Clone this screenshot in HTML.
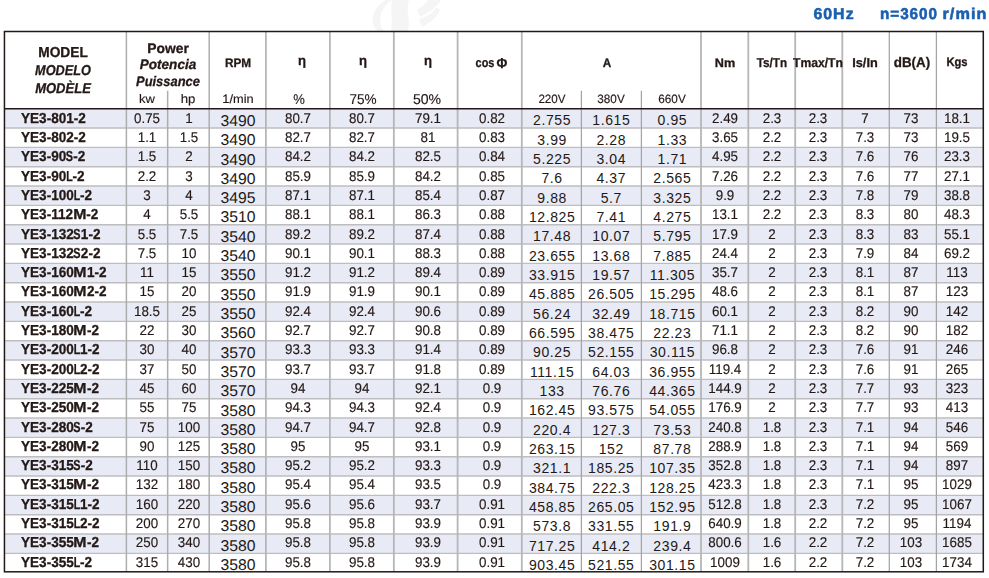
<!DOCTYPE html>
<html><head><meta charset="utf-8"><title>YE3 60Hz</title>
<style>
html,body{margin:0;padding:0;background:#fff;}
body{width:989px;height:578px;position:relative;overflow:hidden;font-family:"Liberation Sans",sans-serif;color:#231815;text-rendering:geometricPrecision;}
.grid{position:absolute;left:0;top:0;}
.t{position:absolute;line-height:20px;white-space:nowrap;height:20px;}
.g{position:absolute;left:0;top:0;width:989px;height:578px;will-change:transform;-webkit-text-stroke:0.15px currentColor;}
.b{font-weight:bold;-webkit-text-stroke:0.3px currentColor;}
.i{font-style:italic;}
.k{display:inline-block;}
</style></head><body>
<svg class="grid" width="989" height="578" viewBox="0 0 989 578">
<g fill="#f5f5f5"><path d="M386 0 C372 8 368 24 378 31 L384 31 C377 22 380 8 392 0 Z"/><path d="M392 0 C390 10 393 22 391 31 L408 31 C411 20 405 10 409 0 Z"/><path d="M428 0 C424 6 420 8 417 10 L420 17 C430 12 438 6 441 0 Z"/><path d="M436 8 C432 14 426 17 419 19 L422 27 C432 22 438 16 440 9 Z"/></g>
<rect x="4.45" y="108.70" width="978.85" height="19.34" fill="#e8ebf5"/>
<rect x="4.45" y="147.37" width="978.85" height="19.34" fill="#e8ebf5"/>
<rect x="4.45" y="186.04" width="978.85" height="19.34" fill="#e8ebf5"/>
<rect x="4.45" y="224.71" width="978.85" height="19.34" fill="#e8ebf5"/>
<rect x="4.45" y="263.38" width="978.85" height="19.34" fill="#e8ebf5"/>
<rect x="4.45" y="302.05" width="978.85" height="19.34" fill="#e8ebf5"/>
<rect x="4.45" y="340.72" width="978.85" height="19.34" fill="#e8ebf5"/>
<rect x="4.45" y="379.39" width="978.85" height="19.34" fill="#e8ebf5"/>
<rect x="4.45" y="418.06" width="978.85" height="19.34" fill="#e8ebf5"/>
<rect x="4.45" y="456.73" width="978.85" height="19.34" fill="#e8ebf5"/>
<rect x="4.45" y="495.40" width="978.85" height="19.34" fill="#e8ebf5"/>
<rect x="4.45" y="534.07" width="978.85" height="19.34" fill="#e8ebf5"/>
<line x1="4.45" y1="128.03" x2="983.3" y2="128.03" stroke="#bebec1" stroke-width="1.4"/>
<line x1="4.45" y1="147.37" x2="983.3" y2="147.37" stroke="#bebec1" stroke-width="1.4"/>
<line x1="4.45" y1="166.71" x2="983.3" y2="166.71" stroke="#bebec1" stroke-width="1.4"/>
<line x1="4.45" y1="186.04" x2="983.3" y2="186.04" stroke="#bebec1" stroke-width="1.4"/>
<line x1="4.45" y1="205.38" x2="983.3" y2="205.38" stroke="#bebec1" stroke-width="1.4"/>
<line x1="4.45" y1="224.71" x2="983.3" y2="224.71" stroke="#bebec1" stroke-width="1.4"/>
<line x1="4.45" y1="244.05" x2="983.3" y2="244.05" stroke="#bebec1" stroke-width="1.4"/>
<line x1="4.45" y1="263.38" x2="983.3" y2="263.38" stroke="#bebec1" stroke-width="1.4"/>
<line x1="4.45" y1="282.72" x2="983.3" y2="282.72" stroke="#bebec1" stroke-width="1.4"/>
<line x1="4.45" y1="302.05" x2="983.3" y2="302.05" stroke="#bebec1" stroke-width="1.4"/>
<line x1="4.45" y1="321.38" x2="983.3" y2="321.38" stroke="#bebec1" stroke-width="1.4"/>
<line x1="4.45" y1="340.72" x2="983.3" y2="340.72" stroke="#bebec1" stroke-width="1.4"/>
<line x1="4.45" y1="360.06" x2="983.3" y2="360.06" stroke="#bebec1" stroke-width="1.4"/>
<line x1="4.45" y1="379.39" x2="983.3" y2="379.39" stroke="#bebec1" stroke-width="1.4"/>
<line x1="4.45" y1="398.73" x2="983.3" y2="398.73" stroke="#bebec1" stroke-width="1.4"/>
<line x1="4.45" y1="418.06" x2="983.3" y2="418.06" stroke="#bebec1" stroke-width="1.4"/>
<line x1="4.45" y1="437.39" x2="983.3" y2="437.39" stroke="#bebec1" stroke-width="1.4"/>
<line x1="4.45" y1="456.73" x2="983.3" y2="456.73" stroke="#bebec1" stroke-width="1.4"/>
<line x1="4.45" y1="476.06" x2="983.3" y2="476.06" stroke="#bebec1" stroke-width="1.4"/>
<line x1="4.45" y1="495.40" x2="983.3" y2="495.40" stroke="#bebec1" stroke-width="1.4"/>
<line x1="4.45" y1="514.74" x2="983.3" y2="514.74" stroke="#bebec1" stroke-width="1.4"/>
<line x1="4.45" y1="534.07" x2="983.3" y2="534.07" stroke="#bebec1" stroke-width="1.4"/>
<line x1="4.45" y1="553.41" x2="983.3" y2="553.41" stroke="#bebec1" stroke-width="1.4"/>
<line x1="126.4" y1="31.5" x2="126.4" y2="571.80" stroke="#adadad" stroke-width="1.5"/>
<line x1="167.65" y1="90.8" x2="167.65" y2="571.80" stroke="#adadad" stroke-width="1.5"/>
<line x1="209.2" y1="31.5" x2="209.2" y2="571.80" stroke="#adadad" stroke-width="1.5"/>
<line x1="265.9" y1="31.5" x2="265.9" y2="571.80" stroke="#b6b6b6" stroke-width="1.8"/>
<line x1="329.9" y1="31.5" x2="329.9" y2="571.80" stroke="#b6b6b6" stroke-width="1.8"/>
<line x1="393.85" y1="31.5" x2="393.85" y2="571.80" stroke="#b6b6b6" stroke-width="1.8"/>
<line x1="457.6" y1="31.5" x2="457.6" y2="571.80" stroke="#b6b6b6" stroke-width="1.8"/>
<line x1="521.8" y1="31.5" x2="521.8" y2="571.80" stroke="#b6b6b6" stroke-width="1.8"/>
<line x1="581.4" y1="90.8" x2="581.4" y2="571.80" stroke="#a4a4a4" stroke-width="1.25"/>
<line x1="641.4" y1="90.8" x2="641.4" y2="571.80" stroke="#a4a4a4" stroke-width="1.25"/>
<line x1="701.0" y1="31.5" x2="701.0" y2="571.80" stroke="#b6b6b6" stroke-width="1.8"/>
<line x1="748.3" y1="31.5" x2="748.3" y2="571.80" stroke="#b6b6b6" stroke-width="1.8"/>
<line x1="795.2" y1="31.5" x2="795.2" y2="571.80" stroke="#b6b6b6" stroke-width="1.8"/>
<line x1="842.3" y1="31.5" x2="842.3" y2="571.80" stroke="#b6b6b6" stroke-width="1.8"/>
<line x1="889.3" y1="31.5" x2="889.3" y2="571.80" stroke="#a4a4a4" stroke-width="1.25"/>
<line x1="936.4" y1="31.5" x2="936.4" y2="571.80" stroke="#a4a4a4" stroke-width="1.25"/>
<line x1="4.45" y1="108.7" x2="983.3" y2="108.7" stroke="#231815" stroke-width="1.5"/>
<rect x="4.45" y="31.5" width="978.85" height="540.30" fill="none" stroke="#231815" stroke-width="1.5"/>
</svg>
<div class="t" style="top:112px;font-size:15.6px;left:137.70px;width:200px;text-align:center;transform:scaleX(1.008);transform-origin:50% 50%;">3490</div>
<div class="t" style="top:110px;font-size:14.0px;left:452.10px;width:200px;text-align:center;letter-spacing:0.6px;text-rendering:auto;">2.755</div>
<div class="t" style="top:110px;font-size:14.0px;left:511.30px;width:200px;text-align:center;letter-spacing:0.6px;text-rendering:auto;">1.615</div>
<div class="t" style="top:110px;font-size:14.0px;left:572.40px;width:200px;text-align:center;letter-spacing:0.6px;text-rendering:auto;">0.95</div>
<div class="t" style="top:131px;font-size:15.6px;left:137.70px;width:200px;text-align:center;transform:scaleX(1.008);transform-origin:50% 50%;">3490</div>
<div class="t" style="top:130px;font-size:14.0px;left:452.10px;width:200px;text-align:center;letter-spacing:0.6px;text-rendering:auto;">3.99</div>
<div class="t" style="top:130px;font-size:14.0px;left:511.30px;width:200px;text-align:center;letter-spacing:0.6px;text-rendering:auto;">2.28</div>
<div class="t" style="top:130px;font-size:14.0px;left:572.40px;width:200px;text-align:center;letter-spacing:0.6px;text-rendering:auto;">1.33</div>
<div class="t" style="top:151px;font-size:15.6px;left:137.70px;width:200px;text-align:center;transform:scaleX(1.008);transform-origin:50% 50%;">3490</div>
<div class="t" style="top:149px;font-size:14.0px;left:452.10px;width:200px;text-align:center;letter-spacing:0.6px;text-rendering:auto;">5.225</div>
<div class="t" style="top:149px;font-size:14.0px;left:511.30px;width:200px;text-align:center;letter-spacing:0.6px;text-rendering:auto;">3.04</div>
<div class="t" style="top:149px;font-size:14.0px;left:572.40px;width:200px;text-align:center;letter-spacing:0.6px;text-rendering:auto;">1.71</div>
<div class="t" style="top:170px;font-size:15.6px;left:137.70px;width:200px;text-align:center;transform:scaleX(1.008);transform-origin:50% 50%;">3490</div>
<div class="t" style="top:168px;font-size:14.0px;left:452.10px;width:200px;text-align:center;letter-spacing:0.6px;text-rendering:auto;">7.6</div>
<div class="t" style="top:168px;font-size:14.0px;left:511.30px;width:200px;text-align:center;letter-spacing:0.6px;text-rendering:auto;">4.37</div>
<div class="t" style="top:168px;font-size:14.0px;left:572.40px;width:200px;text-align:center;letter-spacing:0.6px;text-rendering:auto;">2.565</div>
<div class="t" style="top:189px;font-size:15.6px;left:137.70px;width:200px;text-align:center;transform:scaleX(1.008);transform-origin:50% 50%;">3495</div>
<div class="t" style="top:188px;font-size:14.0px;left:452.10px;width:200px;text-align:center;letter-spacing:0.6px;text-rendering:auto;">9.88</div>
<div class="t" style="top:188px;font-size:14.0px;left:511.30px;width:200px;text-align:center;letter-spacing:0.6px;text-rendering:auto;">5.7</div>
<div class="t" style="top:188px;font-size:14.0px;left:572.40px;width:200px;text-align:center;letter-spacing:0.6px;text-rendering:auto;">3.325</div>
<div class="t" style="top:208px;font-size:15.6px;left:137.70px;width:200px;text-align:center;transform:scaleX(1.008);transform-origin:50% 50%;">3510</div>
<div class="t" style="top:207px;font-size:14.0px;left:452.10px;width:200px;text-align:center;letter-spacing:0.6px;text-rendering:auto;">12.825</div>
<div class="t" style="top:207px;font-size:14.0px;left:511.30px;width:200px;text-align:center;letter-spacing:0.6px;text-rendering:auto;">7.41</div>
<div class="t" style="top:207px;font-size:14.0px;left:572.40px;width:200px;text-align:center;letter-spacing:0.6px;text-rendering:auto;">4.275</div>
<div class="t" style="top:228px;font-size:15.6px;left:137.70px;width:200px;text-align:center;transform:scaleX(1.008);transform-origin:50% 50%;">3540</div>
<div class="t" style="top:226px;font-size:14.0px;left:452.10px;width:200px;text-align:center;letter-spacing:0.6px;text-rendering:auto;">17.48</div>
<div class="t" style="top:226px;font-size:14.0px;left:511.30px;width:200px;text-align:center;letter-spacing:0.6px;text-rendering:auto;">10.07</div>
<div class="t" style="top:226px;font-size:14.0px;left:572.40px;width:200px;text-align:center;letter-spacing:0.6px;text-rendering:auto;">5.795</div>
<div class="t" style="top:247px;font-size:15.6px;left:137.70px;width:200px;text-align:center;transform:scaleX(1.008);transform-origin:50% 50%;">3540</div>
<div class="t" style="top:246px;font-size:14.0px;left:452.10px;width:200px;text-align:center;letter-spacing:0.6px;text-rendering:auto;">23.655</div>
<div class="t" style="top:246px;font-size:14.0px;left:511.30px;width:200px;text-align:center;letter-spacing:0.6px;text-rendering:auto;">13.68</div>
<div class="t" style="top:246px;font-size:14.0px;left:572.40px;width:200px;text-align:center;letter-spacing:0.6px;text-rendering:auto;">7.885</div>
<div class="t" style="top:266px;font-size:15.6px;left:137.70px;width:200px;text-align:center;transform:scaleX(1.008);transform-origin:50% 50%;">3550</div>
<div class="t" style="top:265px;font-size:14.0px;left:452.10px;width:200px;text-align:center;letter-spacing:0.6px;text-rendering:auto;">33.915</div>
<div class="t" style="top:265px;font-size:14.0px;left:511.30px;width:200px;text-align:center;letter-spacing:0.6px;text-rendering:auto;">19.57</div>
<div class="t" style="top:265px;font-size:14.0px;left:572.40px;width:200px;text-align:center;letter-spacing:0.6px;text-rendering:auto;">11.305</div>
<div class="t" style="top:286px;font-size:15.6px;left:137.70px;width:200px;text-align:center;transform:scaleX(1.008);transform-origin:50% 50%;">3550</div>
<div class="t" style="top:284px;font-size:14.0px;left:452.10px;width:200px;text-align:center;letter-spacing:0.6px;text-rendering:auto;">45.885</div>
<div class="t" style="top:284px;font-size:14.0px;left:511.30px;width:200px;text-align:center;letter-spacing:0.6px;text-rendering:auto;">26.505</div>
<div class="t" style="top:284px;font-size:14.0px;left:572.40px;width:200px;text-align:center;letter-spacing:0.6px;text-rendering:auto;">15.295</div>
<div class="t" style="top:305px;font-size:15.6px;left:137.70px;width:200px;text-align:center;transform:scaleX(1.008);transform-origin:50% 50%;">3550</div>
<div class="t" style="top:304px;font-size:14.0px;left:452.10px;width:200px;text-align:center;letter-spacing:0.6px;text-rendering:auto;">56.24</div>
<div class="t" style="top:304px;font-size:14.0px;left:511.30px;width:200px;text-align:center;letter-spacing:0.6px;text-rendering:auto;">32.49</div>
<div class="t" style="top:304px;font-size:14.0px;left:572.40px;width:200px;text-align:center;letter-spacing:0.6px;text-rendering:auto;">18.715</div>
<div class="t" style="top:324px;font-size:15.6px;left:137.70px;width:200px;text-align:center;transform:scaleX(1.008);transform-origin:50% 50%;">3560</div>
<div class="t" style="top:323px;font-size:14.0px;left:452.10px;width:200px;text-align:center;letter-spacing:0.6px;text-rendering:auto;">66.595</div>
<div class="t" style="top:323px;font-size:14.0px;left:511.30px;width:200px;text-align:center;letter-spacing:0.6px;text-rendering:auto;">38.475</div>
<div class="t" style="top:323px;font-size:14.0px;left:572.40px;width:200px;text-align:center;letter-spacing:0.6px;text-rendering:auto;">22.23</div>
<div class="t" style="top:344px;font-size:15.6px;left:137.70px;width:200px;text-align:center;transform:scaleX(1.008);transform-origin:50% 50%;">3570</div>
<div class="t" style="top:342px;font-size:14.0px;left:452.10px;width:200px;text-align:center;letter-spacing:0.6px;text-rendering:auto;">90.25</div>
<div class="t" style="top:342px;font-size:14.0px;left:511.30px;width:200px;text-align:center;letter-spacing:0.6px;text-rendering:auto;">52.155</div>
<div class="t" style="top:342px;font-size:14.0px;left:572.40px;width:200px;text-align:center;letter-spacing:0.6px;text-rendering:auto;">30.115</div>
<div class="t" style="top:363px;font-size:15.6px;left:137.70px;width:200px;text-align:center;transform:scaleX(1.008);transform-origin:50% 50%;">3570</div>
<div class="t" style="top:362px;font-size:14.0px;left:452.10px;width:200px;text-align:center;letter-spacing:0.6px;text-rendering:auto;">111.15</div>
<div class="t" style="top:362px;font-size:14.0px;left:511.30px;width:200px;text-align:center;letter-spacing:0.6px;text-rendering:auto;">64.03</div>
<div class="t" style="top:362px;font-size:14.0px;left:572.40px;width:200px;text-align:center;letter-spacing:0.6px;text-rendering:auto;">36.955</div>
<div class="t" style="top:382px;font-size:15.6px;left:137.70px;width:200px;text-align:center;transform:scaleX(1.008);transform-origin:50% 50%;">3570</div>
<div class="t" style="top:381px;font-size:14.0px;left:452.10px;width:200px;text-align:center;letter-spacing:0.6px;text-rendering:auto;">133</div>
<div class="t" style="top:381px;font-size:14.0px;left:511.30px;width:200px;text-align:center;letter-spacing:0.6px;text-rendering:auto;">76.76</div>
<div class="t" style="top:381px;font-size:14.0px;left:572.40px;width:200px;text-align:center;letter-spacing:0.6px;text-rendering:auto;">44.365</div>
<div class="t" style="top:402px;font-size:15.6px;left:137.70px;width:200px;text-align:center;transform:scaleX(1.008);transform-origin:50% 50%;">3580</div>
<div class="t" style="top:400px;font-size:14.0px;left:452.10px;width:200px;text-align:center;letter-spacing:0.6px;text-rendering:auto;">162.45</div>
<div class="t" style="top:400px;font-size:14.0px;left:511.30px;width:200px;text-align:center;letter-spacing:0.6px;text-rendering:auto;">93.575</div>
<div class="t" style="top:400px;font-size:14.0px;left:572.40px;width:200px;text-align:center;letter-spacing:0.6px;text-rendering:auto;">54.055</div>
<div class="t" style="top:421px;font-size:15.6px;left:137.70px;width:200px;text-align:center;transform:scaleX(1.008);transform-origin:50% 50%;">3580</div>
<div class="t" style="top:420px;font-size:14.0px;left:452.10px;width:200px;text-align:center;letter-spacing:0.6px;text-rendering:auto;">220.4</div>
<div class="t" style="top:420px;font-size:14.0px;left:511.30px;width:200px;text-align:center;letter-spacing:0.6px;text-rendering:auto;">127.3</div>
<div class="t" style="top:420px;font-size:14.0px;left:572.40px;width:200px;text-align:center;letter-spacing:0.6px;text-rendering:auto;">73.53</div>
<div class="t" style="top:440px;font-size:15.6px;left:137.70px;width:200px;text-align:center;transform:scaleX(1.008);transform-origin:50% 50%;">3580</div>
<div class="t" style="top:439px;font-size:14.0px;left:452.10px;width:200px;text-align:center;letter-spacing:0.6px;text-rendering:auto;">263.15</div>
<div class="t" style="top:439px;font-size:14.0px;left:511.30px;width:200px;text-align:center;letter-spacing:0.6px;text-rendering:auto;">152</div>
<div class="t" style="top:439px;font-size:14.0px;left:572.40px;width:200px;text-align:center;letter-spacing:0.6px;text-rendering:auto;">87.78</div>
<div class="t" style="top:459px;font-size:15.6px;left:137.70px;width:200px;text-align:center;transform:scaleX(1.008);transform-origin:50% 50%;">3580</div>
<div class="t" style="top:458px;font-size:14.0px;left:452.10px;width:200px;text-align:center;letter-spacing:0.6px;text-rendering:auto;">321.1</div>
<div class="t" style="top:458px;font-size:14.0px;left:511.30px;width:200px;text-align:center;letter-spacing:0.6px;text-rendering:auto;">185.25</div>
<div class="t" style="top:458px;font-size:14.0px;left:572.40px;width:200px;text-align:center;letter-spacing:0.6px;text-rendering:auto;">107.35</div>
<div class="t" style="top:479px;font-size:15.6px;left:137.70px;width:200px;text-align:center;transform:scaleX(1.008);transform-origin:50% 50%;">3580</div>
<div class="t" style="top:478px;font-size:14.0px;left:452.10px;width:200px;text-align:center;letter-spacing:0.6px;text-rendering:auto;">384.75</div>
<div class="t" style="top:478px;font-size:14.0px;left:511.30px;width:200px;text-align:center;letter-spacing:0.6px;text-rendering:auto;">222.3</div>
<div class="t" style="top:478px;font-size:14.0px;left:572.40px;width:200px;text-align:center;letter-spacing:0.6px;text-rendering:auto;">128.25</div>
<div class="t" style="top:498px;font-size:15.6px;left:137.70px;width:200px;text-align:center;transform:scaleX(1.008);transform-origin:50% 50%;">3580</div>
<div class="t" style="top:497px;font-size:14.0px;left:452.10px;width:200px;text-align:center;letter-spacing:0.6px;text-rendering:auto;">458.85</div>
<div class="t" style="top:497px;font-size:14.0px;left:511.30px;width:200px;text-align:center;letter-spacing:0.6px;text-rendering:auto;">265.05</div>
<div class="t" style="top:497px;font-size:14.0px;left:572.40px;width:200px;text-align:center;letter-spacing:0.6px;text-rendering:auto;">152.95</div>
<div class="t" style="top:517px;font-size:15.6px;left:137.70px;width:200px;text-align:center;transform:scaleX(1.008);transform-origin:50% 50%;">3580</div>
<div class="t" style="top:516px;font-size:14.0px;left:452.10px;width:200px;text-align:center;letter-spacing:0.6px;text-rendering:auto;">573.8</div>
<div class="t" style="top:516px;font-size:14.0px;left:511.30px;width:200px;text-align:center;letter-spacing:0.6px;text-rendering:auto;">331.55</div>
<div class="t" style="top:516px;font-size:14.0px;left:572.40px;width:200px;text-align:center;letter-spacing:0.6px;text-rendering:auto;">191.9</div>
<div class="t" style="top:537px;font-size:15.6px;left:137.70px;width:200px;text-align:center;transform:scaleX(1.008);transform-origin:50% 50%;">3580</div>
<div class="t" style="top:536px;font-size:14.0px;left:452.10px;width:200px;text-align:center;letter-spacing:0.6px;text-rendering:auto;">717.25</div>
<div class="t" style="top:536px;font-size:14.0px;left:511.30px;width:200px;text-align:center;letter-spacing:0.6px;text-rendering:auto;">414.2</div>
<div class="t" style="top:536px;font-size:14.0px;left:572.40px;width:200px;text-align:center;letter-spacing:0.6px;text-rendering:auto;">239.4</div>
<div class="t" style="top:556px;font-size:15.6px;left:137.70px;width:200px;text-align:center;transform:scaleX(1.008);transform-origin:50% 50%;">3580</div>
<div class="t" style="top:555px;font-size:14.0px;left:452.10px;width:200px;text-align:center;letter-spacing:0.6px;text-rendering:auto;">903.45</div>
<div class="t" style="top:555px;font-size:14.0px;left:511.30px;width:200px;text-align:center;letter-spacing:0.6px;text-rendering:auto;">521.55</div>
<div class="t" style="top:555px;font-size:14.0px;left:572.40px;width:200px;text-align:center;letter-spacing:0.6px;text-rendering:auto;">301.15</div>
<div class="g">
<div class="t b" style="top:5px;font-size:15.6px;left:733.76px;width:200px;text-align:center;letter-spacing:1.0px;color:#1a5fb0;transform:scaleX(1.020);transform-origin:50% 50%;-webkit-text-stroke:0.55px #1a5fb0;">60Hz</div>
<div class="t b" style="top:5px;font-size:15.6px;left:809.39px;width:200px;text-align:center;letter-spacing:1.0px;color:#1a5fb0;transform:scaleX(0.980);transform-origin:50% 50%;-webkit-text-stroke:0.55px #1a5fb0;">n=3600</div>
<div class="t b" style="top:5px;font-size:15.6px;left:865.12px;width:200px;text-align:center;letter-spacing:1.0px;color:#1a5fb0;transform:scaleX(1.044);transform-origin:50% 50%;-webkit-text-stroke:0.55px #1a5fb0;">r/min</div>
<div class="t b" style="top:43px;font-size:14.5px;left:-36.60px;width:200px;text-align:center;transform:scaleX(0.946);transform-origin:50% 50%;">MODEL</div>
<div class="t b i" style="top:61px;font-size:14.3px;left:-36.70px;width:200px;text-align:center;transform:scaleX(0.889);transform-origin:50% 50%;">MODELO</div>
<div class="t b i" style="top:79px;font-size:14.3px;left:-36.80px;width:200px;text-align:center;transform:scaleX(0.910);transform-origin:50% 50%;">MOD&Egrave;LE</div>
<div class="t b" style="top:39px;font-size:13.8px;left:67.80px;width:200px;text-align:center;transform:scaleX(1.005);transform-origin:50% 50%;">Power</div>
<div class="t b i" style="top:55px;font-size:13.8px;left:67.80px;width:200px;text-align:center;transform:scaleX(0.984);transform-origin:50% 50%;">Potencia</div>
<div class="t b i" style="top:72px;font-size:13.8px;left:67.70px;width:200px;text-align:center;transform:scaleX(0.937);transform-origin:50% 50%;">Puissance</div>
<div class="t" style="top:89px;font-size:12.4px;left:46.50px;width:200px;text-align:center;transform:scaleX(1.047);transform-origin:50% 50%;">kw</div>
<div class="t" style="top:89px;font-size:12.4px;left:88.40px;width:200px;text-align:center;transform:scaleX(1.066);transform-origin:50% 50%;">hp</div>
<div class="t b" style="top:53px;font-size:12.3px;left:137.60px;width:200px;text-align:center;transform:scaleX(0.958);transform-origin:50% 50%;">RPM</div>
<div class="t" style="top:89px;font-size:12.2px;left:137.80px;width:200px;text-align:center;transform:scaleX(1.053);transform-origin:50% 50%;">1/min</div>
<div class="t b" style="top:51px;font-size:13.4px;left:202.00px;width:200px;text-align:center;transform:scaleX(0.979);transform-origin:50% 50%;">&eta;</div>
<div class="t b" style="top:51px;font-size:13.4px;left:263.20px;width:200px;text-align:center;transform:scaleX(0.979);transform-origin:50% 50%;">&eta;</div>
<div class="t b" style="top:51px;font-size:13.4px;left:327.60px;width:200px;text-align:center;transform:scaleX(0.979);transform-origin:50% 50%;">&eta;</div>
<div class="t" style="top:90px;font-size:14.2px;left:198.70px;width:200px;text-align:center;transform:scaleX(0.918);transform-origin:50% 50%;">%</div>
<div class="t" style="top:90px;font-size:14.2px;left:262.70px;width:200px;text-align:center;transform:scaleX(0.957);transform-origin:50% 50%;">75%</div>
<div class="t" style="top:90px;font-size:14.2px;left:327.40px;width:200px;text-align:center;transform:scaleX(0.992);transform-origin:50% 50%;">50%</div>
<div class="t b" style="top:53px;font-size:12.8px;left:384.70px;width:200px;text-align:center;transform:scaleX(0.853);transform-origin:50% 50%;">cos</div>
<div class="t b" style="top:54px;font-size:14.4px;left:401.70px;width:200px;text-align:center;transform:scaleX(0.915);transform-origin:50% 50%;">&Phi;</div>
<div class="t b" style="top:53px;font-size:12.3px;left:507.30px;width:200px;text-align:center;transform:scaleX(0.956);transform-origin:50% 50%;">A</div>
<div class="t" style="top:89px;font-size:12.1px;left:451.70px;width:200px;text-align:center;transform:scaleX(0.963);transform-origin:50% 50%;">220V</div>
<div class="t" style="top:89px;font-size:12.1px;left:511.00px;width:200px;text-align:center;transform:scaleX(0.973);transform-origin:50% 50%;">380V</div>
<div class="t" style="top:89px;font-size:12.1px;left:571.85px;width:200px;text-align:center;transform:scaleX(0.973);transform-origin:50% 50%;">660V</div>
<div class="t b" style="top:53px;font-size:12.3px;left:625.40px;width:200px;text-align:center;transform:scaleX(1.029);transform-origin:50% 50%;">Nm</div>
<div class="t b" style="top:53px;font-size:12.9px;left:672.10px;width:200px;text-align:center;transform:scaleX(0.906);transform-origin:50% 50%;">Ts/Tn</div>
<div class="t b" style="top:53px;font-size:12.9px;left:718.25px;width:200px;text-align:center;transform:scaleX(0.941);transform-origin:50% 50%;">Tmax/Tn</div>
<div class="t b" style="top:53px;font-size:12.9px;left:765.10px;width:200px;text-align:center;transform:scaleX(0.988);transform-origin:50% 50%;">Is/In</div>
<div class="t b" style="top:53px;font-size:13.8px;left:811.70px;width:200px;text-align:center;transform:scaleX(0.969);transform-origin:50% 50%;">dB(A)</div>
<div class="t b" style="top:52px;font-size:12.4px;left:857.10px;width:200px;text-align:center;transform:scaleX(0.905);transform-origin:50% 50%;">Kgs</div>
<div class="t b" style="top:109px;font-size:14.5px;left:21.00px;transform:scaleX(0.935);transform-origin:0 50%;">YE3-801-2</div>
<div class="t" style="top:108px;font-size:14.1px;left:46.60px;width:200px;text-align:center;transform:scaleX(0.950);transform-origin:50% 50%;">0.75</div>
<div class="t" style="top:108px;font-size:14.1px;left:88.60px;width:200px;text-align:center;transform:scaleX(0.950);transform-origin:50% 50%;">1</div>
<div class="t" style="top:108px;font-size:14.1px;left:198.20px;width:200px;text-align:center;transform:scaleX(0.950);transform-origin:50% 50%;">80.7</div>
<div class="t" style="top:108px;font-size:14.1px;left:262.20px;width:200px;text-align:center;transform:scaleX(0.950);transform-origin:50% 50%;">80.7</div>
<div class="t" style="top:108px;font-size:14.1px;left:327.60px;width:200px;text-align:center;transform:scaleX(0.950);transform-origin:50% 50%;">79.1</div>
<div class="t" style="top:108px;font-size:14.1px;left:391.60px;width:200px;text-align:center;transform:scaleX(0.950);transform-origin:50% 50%;">0.82</div>
<div class="t" style="top:108px;font-size:14.1px;left:625.20px;width:200px;text-align:center;transform:scaleX(0.950);transform-origin:50% 50%;">2.49</div>
<div class="t" style="top:108px;font-size:14.1px;left:671.60px;width:200px;text-align:center;transform:scaleX(0.950);transform-origin:50% 50%;">2.3</div>
<div class="t" style="top:108px;font-size:14.1px;left:717.60px;width:200px;text-align:center;transform:scaleX(0.950);transform-origin:50% 50%;">2.3</div>
<div class="t" style="top:108px;font-size:14.1px;left:764.80px;width:200px;text-align:center;transform:scaleX(0.950);transform-origin:50% 50%;">7</div>
<div class="t" style="top:108px;font-size:14.1px;left:811.10px;width:200px;text-align:center;transform:scaleX(0.950);transform-origin:50% 50%;">73</div>
<div class="t" style="top:108px;font-size:14.1px;left:856.90px;width:200px;text-align:center;transform:scaleX(0.950);transform-origin:50% 50%;">18.1</div>
<div class="t b" style="top:128px;font-size:14.5px;left:21.00px;transform:scaleX(0.935);transform-origin:0 50%;">YE3-802-2</div>
<div class="t" style="top:127px;font-size:14.1px;left:46.60px;width:200px;text-align:center;transform:scaleX(0.950);transform-origin:50% 50%;">1.1</div>
<div class="t" style="top:127px;font-size:14.1px;left:88.60px;width:200px;text-align:center;transform:scaleX(0.950);transform-origin:50% 50%;">1.5</div>
<div class="t" style="top:127px;font-size:14.1px;left:198.20px;width:200px;text-align:center;transform:scaleX(0.950);transform-origin:50% 50%;">82.7</div>
<div class="t" style="top:127px;font-size:14.1px;left:262.20px;width:200px;text-align:center;transform:scaleX(0.950);transform-origin:50% 50%;">82.7</div>
<div class="t" style="top:127px;font-size:14.1px;left:327.60px;width:200px;text-align:center;transform:scaleX(0.950);transform-origin:50% 50%;">81</div>
<div class="t" style="top:127px;font-size:14.1px;left:391.60px;width:200px;text-align:center;transform:scaleX(0.950);transform-origin:50% 50%;">0.83</div>
<div class="t" style="top:127px;font-size:14.1px;left:625.20px;width:200px;text-align:center;transform:scaleX(0.950);transform-origin:50% 50%;">3.65</div>
<div class="t" style="top:127px;font-size:14.1px;left:671.60px;width:200px;text-align:center;transform:scaleX(0.950);transform-origin:50% 50%;">2.2</div>
<div class="t" style="top:127px;font-size:14.1px;left:717.60px;width:200px;text-align:center;transform:scaleX(0.950);transform-origin:50% 50%;">2.3</div>
<div class="t" style="top:127px;font-size:14.1px;left:764.80px;width:200px;text-align:center;transform:scaleX(0.950);transform-origin:50% 50%;">7.3</div>
<div class="t" style="top:127px;font-size:14.1px;left:811.10px;width:200px;text-align:center;transform:scaleX(0.950);transform-origin:50% 50%;">73</div>
<div class="t" style="top:127px;font-size:14.1px;left:856.90px;width:200px;text-align:center;transform:scaleX(0.950);transform-origin:50% 50%;">19.5</div>
<div class="t b" style="top:147px;font-size:14.5px;left:21.00px;transform:scaleX(0.935);transform-origin:0 50%;">YE3-90<span class="k" style="transform:scaleX(0.8);margin:0 -1.05px">S</span>-2</div>
<div class="t" style="top:146px;font-size:14.1px;left:46.60px;width:200px;text-align:center;transform:scaleX(0.950);transform-origin:50% 50%;">1.5</div>
<div class="t" style="top:146px;font-size:14.1px;left:88.60px;width:200px;text-align:center;transform:scaleX(0.950);transform-origin:50% 50%;">2</div>
<div class="t" style="top:146px;font-size:14.1px;left:198.20px;width:200px;text-align:center;transform:scaleX(0.950);transform-origin:50% 50%;">84.2</div>
<div class="t" style="top:146px;font-size:14.1px;left:262.20px;width:200px;text-align:center;transform:scaleX(0.950);transform-origin:50% 50%;">84.2</div>
<div class="t" style="top:146px;font-size:14.1px;left:327.60px;width:200px;text-align:center;transform:scaleX(0.950);transform-origin:50% 50%;">82.5</div>
<div class="t" style="top:146px;font-size:14.1px;left:391.60px;width:200px;text-align:center;transform:scaleX(0.950);transform-origin:50% 50%;">0.84</div>
<div class="t" style="top:146px;font-size:14.1px;left:625.20px;width:200px;text-align:center;transform:scaleX(0.950);transform-origin:50% 50%;">4.95</div>
<div class="t" style="top:146px;font-size:14.1px;left:671.60px;width:200px;text-align:center;transform:scaleX(0.950);transform-origin:50% 50%;">2.2</div>
<div class="t" style="top:146px;font-size:14.1px;left:717.60px;width:200px;text-align:center;transform:scaleX(0.950);transform-origin:50% 50%;">2.3</div>
<div class="t" style="top:146px;font-size:14.1px;left:764.80px;width:200px;text-align:center;transform:scaleX(0.950);transform-origin:50% 50%;">7.6</div>
<div class="t" style="top:146px;font-size:14.1px;left:811.10px;width:200px;text-align:center;transform:scaleX(0.950);transform-origin:50% 50%;">76</div>
<div class="t" style="top:146px;font-size:14.1px;left:856.90px;width:200px;text-align:center;transform:scaleX(0.950);transform-origin:50% 50%;">23.3</div>
<div class="t b" style="top:167px;font-size:14.5px;left:21.00px;transform:scaleX(0.935);transform-origin:0 50%;">YE3-90<span class="k" style="transform:scaleX(0.78);transform-origin:15% 50%;margin:0 -1.9px 0 -0.3px">L</span>-2</div>
<div class="t" style="top:166px;font-size:14.1px;left:46.60px;width:200px;text-align:center;transform:scaleX(0.950);transform-origin:50% 50%;">2.2</div>
<div class="t" style="top:166px;font-size:14.1px;left:88.60px;width:200px;text-align:center;transform:scaleX(0.950);transform-origin:50% 50%;">3</div>
<div class="t" style="top:166px;font-size:14.1px;left:198.20px;width:200px;text-align:center;transform:scaleX(0.950);transform-origin:50% 50%;">85.9</div>
<div class="t" style="top:166px;font-size:14.1px;left:262.20px;width:200px;text-align:center;transform:scaleX(0.950);transform-origin:50% 50%;">85.9</div>
<div class="t" style="top:166px;font-size:14.1px;left:327.60px;width:200px;text-align:center;transform:scaleX(0.950);transform-origin:50% 50%;">84.2</div>
<div class="t" style="top:166px;font-size:14.1px;left:391.60px;width:200px;text-align:center;transform:scaleX(0.950);transform-origin:50% 50%;">0.85</div>
<div class="t" style="top:166px;font-size:14.1px;left:625.20px;width:200px;text-align:center;transform:scaleX(0.950);transform-origin:50% 50%;">7.26</div>
<div class="t" style="top:166px;font-size:14.1px;left:671.60px;width:200px;text-align:center;transform:scaleX(0.950);transform-origin:50% 50%;">2.2</div>
<div class="t" style="top:166px;font-size:14.1px;left:717.60px;width:200px;text-align:center;transform:scaleX(0.950);transform-origin:50% 50%;">2.3</div>
<div class="t" style="top:166px;font-size:14.1px;left:764.80px;width:200px;text-align:center;transform:scaleX(0.950);transform-origin:50% 50%;">7.6</div>
<div class="t" style="top:166px;font-size:14.1px;left:811.10px;width:200px;text-align:center;transform:scaleX(0.950);transform-origin:50% 50%;">77</div>
<div class="t" style="top:166px;font-size:14.1px;left:856.90px;width:200px;text-align:center;transform:scaleX(0.950);transform-origin:50% 50%;">27.1</div>
<div class="t b" style="top:186px;font-size:14.5px;left:21.00px;transform:scaleX(0.935);transform-origin:0 50%;">YE3-100<span class="k" style="transform:scaleX(0.78);transform-origin:15% 50%;margin:0 -1.9px 0 -0.3px">L</span>-2</div>
<div class="t" style="top:185px;font-size:14.1px;left:46.60px;width:200px;text-align:center;transform:scaleX(0.950);transform-origin:50% 50%;">3</div>
<div class="t" style="top:185px;font-size:14.1px;left:88.60px;width:200px;text-align:center;transform:scaleX(0.950);transform-origin:50% 50%;">4</div>
<div class="t" style="top:185px;font-size:14.1px;left:198.20px;width:200px;text-align:center;transform:scaleX(0.950);transform-origin:50% 50%;">87.1</div>
<div class="t" style="top:185px;font-size:14.1px;left:262.20px;width:200px;text-align:center;transform:scaleX(0.950);transform-origin:50% 50%;">87.1</div>
<div class="t" style="top:185px;font-size:14.1px;left:327.60px;width:200px;text-align:center;transform:scaleX(0.950);transform-origin:50% 50%;">85.4</div>
<div class="t" style="top:185px;font-size:14.1px;left:391.60px;width:200px;text-align:center;transform:scaleX(0.950);transform-origin:50% 50%;">0.87</div>
<div class="t" style="top:185px;font-size:14.1px;left:625.20px;width:200px;text-align:center;transform:scaleX(0.950);transform-origin:50% 50%;">9.9</div>
<div class="t" style="top:185px;font-size:14.1px;left:671.60px;width:200px;text-align:center;transform:scaleX(0.950);transform-origin:50% 50%;">2.2</div>
<div class="t" style="top:185px;font-size:14.1px;left:717.60px;width:200px;text-align:center;transform:scaleX(0.950);transform-origin:50% 50%;">2.3</div>
<div class="t" style="top:185px;font-size:14.1px;left:764.80px;width:200px;text-align:center;transform:scaleX(0.950);transform-origin:50% 50%;">7.8</div>
<div class="t" style="top:185px;font-size:14.1px;left:811.10px;width:200px;text-align:center;transform:scaleX(0.950);transform-origin:50% 50%;">79</div>
<div class="t" style="top:185px;font-size:14.1px;left:856.90px;width:200px;text-align:center;transform:scaleX(0.950);transform-origin:50% 50%;">38.8</div>
<div class="t b" style="top:205px;font-size:14.5px;left:21.00px;transform:scaleX(0.935);transform-origin:0 50%;">YE3-112<span class="k" style="transform:scaleX(1.17);margin:0 1.05px">M</span>-2</div>
<div class="t" style="top:204px;font-size:14.1px;left:46.60px;width:200px;text-align:center;transform:scaleX(0.950);transform-origin:50% 50%;">4</div>
<div class="t" style="top:204px;font-size:14.1px;left:88.60px;width:200px;text-align:center;transform:scaleX(0.950);transform-origin:50% 50%;">5.5</div>
<div class="t" style="top:204px;font-size:14.1px;left:198.20px;width:200px;text-align:center;transform:scaleX(0.950);transform-origin:50% 50%;">88.1</div>
<div class="t" style="top:204px;font-size:14.1px;left:262.20px;width:200px;text-align:center;transform:scaleX(0.950);transform-origin:50% 50%;">88.1</div>
<div class="t" style="top:204px;font-size:14.1px;left:327.60px;width:200px;text-align:center;transform:scaleX(0.950);transform-origin:50% 50%;">86.3</div>
<div class="t" style="top:204px;font-size:14.1px;left:391.60px;width:200px;text-align:center;transform:scaleX(0.950);transform-origin:50% 50%;">0.88</div>
<div class="t" style="top:204px;font-size:14.1px;left:625.20px;width:200px;text-align:center;transform:scaleX(0.950);transform-origin:50% 50%;">13.1</div>
<div class="t" style="top:204px;font-size:14.1px;left:671.60px;width:200px;text-align:center;transform:scaleX(0.950);transform-origin:50% 50%;">2.2</div>
<div class="t" style="top:204px;font-size:14.1px;left:717.60px;width:200px;text-align:center;transform:scaleX(0.950);transform-origin:50% 50%;">2.3</div>
<div class="t" style="top:204px;font-size:14.1px;left:764.80px;width:200px;text-align:center;transform:scaleX(0.950);transform-origin:50% 50%;">8.3</div>
<div class="t" style="top:204px;font-size:14.1px;left:811.10px;width:200px;text-align:center;transform:scaleX(0.950);transform-origin:50% 50%;">80</div>
<div class="t" style="top:204px;font-size:14.1px;left:856.90px;width:200px;text-align:center;transform:scaleX(0.950);transform-origin:50% 50%;">48.3</div>
<div class="t b" style="top:225px;font-size:14.5px;left:21.00px;transform:scaleX(0.935);transform-origin:0 50%;">YE3-132<span class="k" style="transform:scaleX(0.8);margin:0 -1.05px">S</span>1-2</div>
<div class="t" style="top:224px;font-size:14.1px;left:46.60px;width:200px;text-align:center;transform:scaleX(0.950);transform-origin:50% 50%;">5.5</div>
<div class="t" style="top:224px;font-size:14.1px;left:88.60px;width:200px;text-align:center;transform:scaleX(0.950);transform-origin:50% 50%;">7.5</div>
<div class="t" style="top:224px;font-size:14.1px;left:198.20px;width:200px;text-align:center;transform:scaleX(0.950);transform-origin:50% 50%;">89.2</div>
<div class="t" style="top:224px;font-size:14.1px;left:262.20px;width:200px;text-align:center;transform:scaleX(0.950);transform-origin:50% 50%;">89.2</div>
<div class="t" style="top:224px;font-size:14.1px;left:327.60px;width:200px;text-align:center;transform:scaleX(0.950);transform-origin:50% 50%;">87.4</div>
<div class="t" style="top:224px;font-size:14.1px;left:391.60px;width:200px;text-align:center;transform:scaleX(0.950);transform-origin:50% 50%;">0.88</div>
<div class="t" style="top:224px;font-size:14.1px;left:625.20px;width:200px;text-align:center;transform:scaleX(0.950);transform-origin:50% 50%;">17.9</div>
<div class="t" style="top:224px;font-size:14.1px;left:671.60px;width:200px;text-align:center;transform:scaleX(0.950);transform-origin:50% 50%;">2</div>
<div class="t" style="top:224px;font-size:14.1px;left:717.60px;width:200px;text-align:center;transform:scaleX(0.950);transform-origin:50% 50%;">2.3</div>
<div class="t" style="top:224px;font-size:14.1px;left:764.80px;width:200px;text-align:center;transform:scaleX(0.950);transform-origin:50% 50%;">8.3</div>
<div class="t" style="top:224px;font-size:14.1px;left:811.10px;width:200px;text-align:center;transform:scaleX(0.950);transform-origin:50% 50%;">83</div>
<div class="t" style="top:224px;font-size:14.1px;left:856.90px;width:200px;text-align:center;transform:scaleX(0.950);transform-origin:50% 50%;">55.1</div>
<div class="t b" style="top:244px;font-size:14.5px;left:21.00px;transform:scaleX(0.935);transform-origin:0 50%;">YE3-132<span class="k" style="transform:scaleX(0.8);margin:0 -1.05px">S</span>2-2</div>
<div class="t" style="top:243px;font-size:14.1px;left:46.60px;width:200px;text-align:center;transform:scaleX(0.950);transform-origin:50% 50%;">7.5</div>
<div class="t" style="top:243px;font-size:14.1px;left:88.60px;width:200px;text-align:center;transform:scaleX(0.950);transform-origin:50% 50%;">10</div>
<div class="t" style="top:243px;font-size:14.1px;left:198.20px;width:200px;text-align:center;transform:scaleX(0.950);transform-origin:50% 50%;">90.1</div>
<div class="t" style="top:243px;font-size:14.1px;left:262.20px;width:200px;text-align:center;transform:scaleX(0.950);transform-origin:50% 50%;">90.1</div>
<div class="t" style="top:243px;font-size:14.1px;left:327.60px;width:200px;text-align:center;transform:scaleX(0.950);transform-origin:50% 50%;">88.3</div>
<div class="t" style="top:243px;font-size:14.1px;left:391.60px;width:200px;text-align:center;transform:scaleX(0.950);transform-origin:50% 50%;">0.88</div>
<div class="t" style="top:243px;font-size:14.1px;left:625.20px;width:200px;text-align:center;transform:scaleX(0.950);transform-origin:50% 50%;">24.4</div>
<div class="t" style="top:243px;font-size:14.1px;left:671.60px;width:200px;text-align:center;transform:scaleX(0.950);transform-origin:50% 50%;">2</div>
<div class="t" style="top:243px;font-size:14.1px;left:717.60px;width:200px;text-align:center;transform:scaleX(0.950);transform-origin:50% 50%;">2.3</div>
<div class="t" style="top:243px;font-size:14.1px;left:764.80px;width:200px;text-align:center;transform:scaleX(0.950);transform-origin:50% 50%;">7.9</div>
<div class="t" style="top:243px;font-size:14.1px;left:811.10px;width:200px;text-align:center;transform:scaleX(0.950);transform-origin:50% 50%;">84</div>
<div class="t" style="top:243px;font-size:14.1px;left:856.90px;width:200px;text-align:center;transform:scaleX(0.950);transform-origin:50% 50%;">69.2</div>
<div class="t b" style="top:263px;font-size:14.5px;left:21.00px;transform:scaleX(0.935);transform-origin:0 50%;">YE3-160<span class="k" style="transform:scaleX(1.17);margin:0 1.05px">M</span>1-2</div>
<div class="t" style="top:262px;font-size:14.1px;left:46.60px;width:200px;text-align:center;transform:scaleX(0.950);transform-origin:50% 50%;">11</div>
<div class="t" style="top:262px;font-size:14.1px;left:88.60px;width:200px;text-align:center;transform:scaleX(0.950);transform-origin:50% 50%;">15</div>
<div class="t" style="top:262px;font-size:14.1px;left:198.20px;width:200px;text-align:center;transform:scaleX(0.950);transform-origin:50% 50%;">91.2</div>
<div class="t" style="top:262px;font-size:14.1px;left:262.20px;width:200px;text-align:center;transform:scaleX(0.950);transform-origin:50% 50%;">91.2</div>
<div class="t" style="top:262px;font-size:14.1px;left:327.60px;width:200px;text-align:center;transform:scaleX(0.950);transform-origin:50% 50%;">89.4</div>
<div class="t" style="top:262px;font-size:14.1px;left:391.60px;width:200px;text-align:center;transform:scaleX(0.950);transform-origin:50% 50%;">0.89</div>
<div class="t" style="top:262px;font-size:14.1px;left:625.20px;width:200px;text-align:center;transform:scaleX(0.950);transform-origin:50% 50%;">35.7</div>
<div class="t" style="top:262px;font-size:14.1px;left:671.60px;width:200px;text-align:center;transform:scaleX(0.950);transform-origin:50% 50%;">2</div>
<div class="t" style="top:262px;font-size:14.1px;left:717.60px;width:200px;text-align:center;transform:scaleX(0.950);transform-origin:50% 50%;">2.3</div>
<div class="t" style="top:262px;font-size:14.1px;left:764.80px;width:200px;text-align:center;transform:scaleX(0.950);transform-origin:50% 50%;">8.1</div>
<div class="t" style="top:262px;font-size:14.1px;left:811.10px;width:200px;text-align:center;transform:scaleX(0.950);transform-origin:50% 50%;">87</div>
<div class="t" style="top:262px;font-size:14.1px;left:856.90px;width:200px;text-align:center;transform:scaleX(0.950);transform-origin:50% 50%;">113</div>
<div class="t b" style="top:282px;font-size:14.5px;left:21.00px;transform:scaleX(0.935);transform-origin:0 50%;">YE3-160<span class="k" style="transform:scaleX(1.17);margin:0 1.05px">M</span>2-2</div>
<div class="t" style="top:281px;font-size:14.1px;left:46.60px;width:200px;text-align:center;transform:scaleX(0.950);transform-origin:50% 50%;">15</div>
<div class="t" style="top:281px;font-size:14.1px;left:88.60px;width:200px;text-align:center;transform:scaleX(0.950);transform-origin:50% 50%;">20</div>
<div class="t" style="top:281px;font-size:14.1px;left:198.20px;width:200px;text-align:center;transform:scaleX(0.950);transform-origin:50% 50%;">91.9</div>
<div class="t" style="top:281px;font-size:14.1px;left:262.20px;width:200px;text-align:center;transform:scaleX(0.950);transform-origin:50% 50%;">91.9</div>
<div class="t" style="top:281px;font-size:14.1px;left:327.60px;width:200px;text-align:center;transform:scaleX(0.950);transform-origin:50% 50%;">90.1</div>
<div class="t" style="top:281px;font-size:14.1px;left:391.60px;width:200px;text-align:center;transform:scaleX(0.950);transform-origin:50% 50%;">0.89</div>
<div class="t" style="top:281px;font-size:14.1px;left:625.20px;width:200px;text-align:center;transform:scaleX(0.950);transform-origin:50% 50%;">48.6</div>
<div class="t" style="top:281px;font-size:14.1px;left:671.60px;width:200px;text-align:center;transform:scaleX(0.950);transform-origin:50% 50%;">2</div>
<div class="t" style="top:281px;font-size:14.1px;left:717.60px;width:200px;text-align:center;transform:scaleX(0.950);transform-origin:50% 50%;">2.3</div>
<div class="t" style="top:281px;font-size:14.1px;left:764.80px;width:200px;text-align:center;transform:scaleX(0.950);transform-origin:50% 50%;">8.1</div>
<div class="t" style="top:281px;font-size:14.1px;left:811.10px;width:200px;text-align:center;transform:scaleX(0.950);transform-origin:50% 50%;">87</div>
<div class="t" style="top:281px;font-size:14.1px;left:856.90px;width:200px;text-align:center;transform:scaleX(0.950);transform-origin:50% 50%;">123</div>
<div class="t b" style="top:302px;font-size:14.5px;left:21.00px;transform:scaleX(0.935);transform-origin:0 50%;">YE3-160<span class="k" style="transform:scaleX(0.78);transform-origin:15% 50%;margin:0 -1.9px 0 -0.3px">L</span>-2</div>
<div class="t" style="top:301px;font-size:14.1px;left:46.60px;width:200px;text-align:center;transform:scaleX(0.950);transform-origin:50% 50%;">18.5</div>
<div class="t" style="top:301px;font-size:14.1px;left:88.60px;width:200px;text-align:center;transform:scaleX(0.950);transform-origin:50% 50%;">25</div>
<div class="t" style="top:301px;font-size:14.1px;left:198.20px;width:200px;text-align:center;transform:scaleX(0.950);transform-origin:50% 50%;">92.4</div>
<div class="t" style="top:301px;font-size:14.1px;left:262.20px;width:200px;text-align:center;transform:scaleX(0.950);transform-origin:50% 50%;">92.4</div>
<div class="t" style="top:301px;font-size:14.1px;left:327.60px;width:200px;text-align:center;transform:scaleX(0.950);transform-origin:50% 50%;">90.6</div>
<div class="t" style="top:301px;font-size:14.1px;left:391.60px;width:200px;text-align:center;transform:scaleX(0.950);transform-origin:50% 50%;">0.89</div>
<div class="t" style="top:301px;font-size:14.1px;left:625.20px;width:200px;text-align:center;transform:scaleX(0.950);transform-origin:50% 50%;">60.1</div>
<div class="t" style="top:301px;font-size:14.1px;left:671.60px;width:200px;text-align:center;transform:scaleX(0.950);transform-origin:50% 50%;">2</div>
<div class="t" style="top:301px;font-size:14.1px;left:717.60px;width:200px;text-align:center;transform:scaleX(0.950);transform-origin:50% 50%;">2.3</div>
<div class="t" style="top:301px;font-size:14.1px;left:764.80px;width:200px;text-align:center;transform:scaleX(0.950);transform-origin:50% 50%;">8.2</div>
<div class="t" style="top:301px;font-size:14.1px;left:811.10px;width:200px;text-align:center;transform:scaleX(0.950);transform-origin:50% 50%;">90</div>
<div class="t" style="top:301px;font-size:14.1px;left:856.90px;width:200px;text-align:center;transform:scaleX(0.950);transform-origin:50% 50%;">142</div>
<div class="t b" style="top:321px;font-size:14.5px;left:21.00px;transform:scaleX(0.935);transform-origin:0 50%;">YE3-180<span class="k" style="transform:scaleX(1.17);margin:0 1.05px">M</span>-2</div>
<div class="t" style="top:320px;font-size:14.1px;left:46.60px;width:200px;text-align:center;transform:scaleX(0.950);transform-origin:50% 50%;">22</div>
<div class="t" style="top:320px;font-size:14.1px;left:88.60px;width:200px;text-align:center;transform:scaleX(0.950);transform-origin:50% 50%;">30</div>
<div class="t" style="top:320px;font-size:14.1px;left:198.20px;width:200px;text-align:center;transform:scaleX(0.950);transform-origin:50% 50%;">92.7</div>
<div class="t" style="top:320px;font-size:14.1px;left:262.20px;width:200px;text-align:center;transform:scaleX(0.950);transform-origin:50% 50%;">92.7</div>
<div class="t" style="top:320px;font-size:14.1px;left:327.60px;width:200px;text-align:center;transform:scaleX(0.950);transform-origin:50% 50%;">90.8</div>
<div class="t" style="top:320px;font-size:14.1px;left:391.60px;width:200px;text-align:center;transform:scaleX(0.950);transform-origin:50% 50%;">0.89</div>
<div class="t" style="top:320px;font-size:14.1px;left:625.20px;width:200px;text-align:center;transform:scaleX(0.950);transform-origin:50% 50%;">71.1</div>
<div class="t" style="top:320px;font-size:14.1px;left:671.60px;width:200px;text-align:center;transform:scaleX(0.950);transform-origin:50% 50%;">2</div>
<div class="t" style="top:320px;font-size:14.1px;left:717.60px;width:200px;text-align:center;transform:scaleX(0.950);transform-origin:50% 50%;">2.3</div>
<div class="t" style="top:320px;font-size:14.1px;left:764.80px;width:200px;text-align:center;transform:scaleX(0.950);transform-origin:50% 50%;">8.2</div>
<div class="t" style="top:320px;font-size:14.1px;left:811.10px;width:200px;text-align:center;transform:scaleX(0.950);transform-origin:50% 50%;">90</div>
<div class="t" style="top:320px;font-size:14.1px;left:856.90px;width:200px;text-align:center;transform:scaleX(0.950);transform-origin:50% 50%;">182</div>
<div class="t b" style="top:340px;font-size:14.5px;left:21.00px;transform:scaleX(0.935);transform-origin:0 50%;">YE3-200<span class="k" style="transform:scaleX(0.78);transform-origin:15% 50%;margin:0 -1.9px 0 -0.3px">L</span>1-2</div>
<div class="t" style="top:339px;font-size:14.1px;left:46.60px;width:200px;text-align:center;transform:scaleX(0.950);transform-origin:50% 50%;">30</div>
<div class="t" style="top:339px;font-size:14.1px;left:88.60px;width:200px;text-align:center;transform:scaleX(0.950);transform-origin:50% 50%;">40</div>
<div class="t" style="top:339px;font-size:14.1px;left:198.20px;width:200px;text-align:center;transform:scaleX(0.950);transform-origin:50% 50%;">93.3</div>
<div class="t" style="top:339px;font-size:14.1px;left:262.20px;width:200px;text-align:center;transform:scaleX(0.950);transform-origin:50% 50%;">93.3</div>
<div class="t" style="top:339px;font-size:14.1px;left:327.60px;width:200px;text-align:center;transform:scaleX(0.950);transform-origin:50% 50%;">91.4</div>
<div class="t" style="top:339px;font-size:14.1px;left:391.60px;width:200px;text-align:center;transform:scaleX(0.950);transform-origin:50% 50%;">0.89</div>
<div class="t" style="top:339px;font-size:14.1px;left:625.20px;width:200px;text-align:center;transform:scaleX(0.950);transform-origin:50% 50%;">96.8</div>
<div class="t" style="top:339px;font-size:14.1px;left:671.60px;width:200px;text-align:center;transform:scaleX(0.950);transform-origin:50% 50%;">2</div>
<div class="t" style="top:339px;font-size:14.1px;left:717.60px;width:200px;text-align:center;transform:scaleX(0.950);transform-origin:50% 50%;">2.3</div>
<div class="t" style="top:339px;font-size:14.1px;left:764.80px;width:200px;text-align:center;transform:scaleX(0.950);transform-origin:50% 50%;">7.6</div>
<div class="t" style="top:339px;font-size:14.1px;left:811.10px;width:200px;text-align:center;transform:scaleX(0.950);transform-origin:50% 50%;">91</div>
<div class="t" style="top:339px;font-size:14.1px;left:856.90px;width:200px;text-align:center;transform:scaleX(0.950);transform-origin:50% 50%;">246</div>
<div class="t b" style="top:360px;font-size:14.5px;left:21.00px;transform:scaleX(0.935);transform-origin:0 50%;">YE3-200<span class="k" style="transform:scaleX(0.78);transform-origin:15% 50%;margin:0 -1.9px 0 -0.3px">L</span>2-2</div>
<div class="t" style="top:359px;font-size:14.1px;left:46.60px;width:200px;text-align:center;transform:scaleX(0.950);transform-origin:50% 50%;">37</div>
<div class="t" style="top:359px;font-size:14.1px;left:88.60px;width:200px;text-align:center;transform:scaleX(0.950);transform-origin:50% 50%;">50</div>
<div class="t" style="top:359px;font-size:14.1px;left:198.20px;width:200px;text-align:center;transform:scaleX(0.950);transform-origin:50% 50%;">93.7</div>
<div class="t" style="top:359px;font-size:14.1px;left:262.20px;width:200px;text-align:center;transform:scaleX(0.950);transform-origin:50% 50%;">93.7</div>
<div class="t" style="top:359px;font-size:14.1px;left:327.60px;width:200px;text-align:center;transform:scaleX(0.950);transform-origin:50% 50%;">91.8</div>
<div class="t" style="top:359px;font-size:14.1px;left:391.60px;width:200px;text-align:center;transform:scaleX(0.950);transform-origin:50% 50%;">0.89</div>
<div class="t" style="top:359px;font-size:14.1px;left:625.20px;width:200px;text-align:center;transform:scaleX(0.950);transform-origin:50% 50%;">119.4</div>
<div class="t" style="top:359px;font-size:14.1px;left:671.60px;width:200px;text-align:center;transform:scaleX(0.950);transform-origin:50% 50%;">2</div>
<div class="t" style="top:359px;font-size:14.1px;left:717.60px;width:200px;text-align:center;transform:scaleX(0.950);transform-origin:50% 50%;">2.3</div>
<div class="t" style="top:359px;font-size:14.1px;left:764.80px;width:200px;text-align:center;transform:scaleX(0.950);transform-origin:50% 50%;">7.6</div>
<div class="t" style="top:359px;font-size:14.1px;left:811.10px;width:200px;text-align:center;transform:scaleX(0.950);transform-origin:50% 50%;">91</div>
<div class="t" style="top:359px;font-size:14.1px;left:856.90px;width:200px;text-align:center;transform:scaleX(0.950);transform-origin:50% 50%;">265</div>
<div class="t b" style="top:379px;font-size:14.5px;left:21.00px;transform:scaleX(0.935);transform-origin:0 50%;">YE3-225<span class="k" style="transform:scaleX(1.17);margin:0 1.05px">M</span>-2</div>
<div class="t" style="top:378px;font-size:14.1px;left:46.60px;width:200px;text-align:center;transform:scaleX(0.950);transform-origin:50% 50%;">45</div>
<div class="t" style="top:378px;font-size:14.1px;left:88.60px;width:200px;text-align:center;transform:scaleX(0.950);transform-origin:50% 50%;">60</div>
<div class="t" style="top:378px;font-size:14.1px;left:198.20px;width:200px;text-align:center;transform:scaleX(0.950);transform-origin:50% 50%;">94</div>
<div class="t" style="top:378px;font-size:14.1px;left:262.20px;width:200px;text-align:center;transform:scaleX(0.950);transform-origin:50% 50%;">94</div>
<div class="t" style="top:378px;font-size:14.1px;left:327.60px;width:200px;text-align:center;transform:scaleX(0.950);transform-origin:50% 50%;">92.1</div>
<div class="t" style="top:378px;font-size:14.1px;left:391.60px;width:200px;text-align:center;transform:scaleX(0.950);transform-origin:50% 50%;">0.9</div>
<div class="t" style="top:378px;font-size:14.1px;left:625.20px;width:200px;text-align:center;transform:scaleX(0.950);transform-origin:50% 50%;">144.9</div>
<div class="t" style="top:378px;font-size:14.1px;left:671.60px;width:200px;text-align:center;transform:scaleX(0.950);transform-origin:50% 50%;">2</div>
<div class="t" style="top:378px;font-size:14.1px;left:717.60px;width:200px;text-align:center;transform:scaleX(0.950);transform-origin:50% 50%;">2.3</div>
<div class="t" style="top:378px;font-size:14.1px;left:764.80px;width:200px;text-align:center;transform:scaleX(0.950);transform-origin:50% 50%;">7.7</div>
<div class="t" style="top:378px;font-size:14.1px;left:811.10px;width:200px;text-align:center;transform:scaleX(0.950);transform-origin:50% 50%;">93</div>
<div class="t" style="top:378px;font-size:14.1px;left:856.90px;width:200px;text-align:center;transform:scaleX(0.950);transform-origin:50% 50%;">323</div>
<div class="t b" style="top:398px;font-size:14.5px;left:21.00px;transform:scaleX(0.935);transform-origin:0 50%;">YE3-250<span class="k" style="transform:scaleX(1.17);margin:0 1.05px">M</span>-2</div>
<div class="t" style="top:397px;font-size:14.1px;left:46.60px;width:200px;text-align:center;transform:scaleX(0.950);transform-origin:50% 50%;">55</div>
<div class="t" style="top:397px;font-size:14.1px;left:88.60px;width:200px;text-align:center;transform:scaleX(0.950);transform-origin:50% 50%;">75</div>
<div class="t" style="top:397px;font-size:14.1px;left:198.20px;width:200px;text-align:center;transform:scaleX(0.950);transform-origin:50% 50%;">94.3</div>
<div class="t" style="top:397px;font-size:14.1px;left:262.20px;width:200px;text-align:center;transform:scaleX(0.950);transform-origin:50% 50%;">94.3</div>
<div class="t" style="top:397px;font-size:14.1px;left:327.60px;width:200px;text-align:center;transform:scaleX(0.950);transform-origin:50% 50%;">92.4</div>
<div class="t" style="top:397px;font-size:14.1px;left:391.60px;width:200px;text-align:center;transform:scaleX(0.950);transform-origin:50% 50%;">0.9</div>
<div class="t" style="top:397px;font-size:14.1px;left:625.20px;width:200px;text-align:center;transform:scaleX(0.950);transform-origin:50% 50%;">176.9</div>
<div class="t" style="top:397px;font-size:14.1px;left:671.60px;width:200px;text-align:center;transform:scaleX(0.950);transform-origin:50% 50%;">2</div>
<div class="t" style="top:397px;font-size:14.1px;left:717.60px;width:200px;text-align:center;transform:scaleX(0.950);transform-origin:50% 50%;">2.3</div>
<div class="t" style="top:397px;font-size:14.1px;left:764.80px;width:200px;text-align:center;transform:scaleX(0.950);transform-origin:50% 50%;">7.7</div>
<div class="t" style="top:397px;font-size:14.1px;left:811.10px;width:200px;text-align:center;transform:scaleX(0.950);transform-origin:50% 50%;">93</div>
<div class="t" style="top:397px;font-size:14.1px;left:856.90px;width:200px;text-align:center;transform:scaleX(0.950);transform-origin:50% 50%;">413</div>
<div class="t b" style="top:418px;font-size:14.5px;left:21.00px;transform:scaleX(0.935);transform-origin:0 50%;">YE3-280<span class="k" style="transform:scaleX(0.8);margin:0 -1.05px">S</span>-2</div>
<div class="t" style="top:417px;font-size:14.1px;left:46.60px;width:200px;text-align:center;transform:scaleX(0.950);transform-origin:50% 50%;">75</div>
<div class="t" style="top:417px;font-size:14.1px;left:88.60px;width:200px;text-align:center;transform:scaleX(0.950);transform-origin:50% 50%;">100</div>
<div class="t" style="top:417px;font-size:14.1px;left:198.20px;width:200px;text-align:center;transform:scaleX(0.950);transform-origin:50% 50%;">94.7</div>
<div class="t" style="top:417px;font-size:14.1px;left:262.20px;width:200px;text-align:center;transform:scaleX(0.950);transform-origin:50% 50%;">94.7</div>
<div class="t" style="top:417px;font-size:14.1px;left:327.60px;width:200px;text-align:center;transform:scaleX(0.950);transform-origin:50% 50%;">92.8</div>
<div class="t" style="top:417px;font-size:14.1px;left:391.60px;width:200px;text-align:center;transform:scaleX(0.950);transform-origin:50% 50%;">0.9</div>
<div class="t" style="top:417px;font-size:14.1px;left:625.20px;width:200px;text-align:center;transform:scaleX(0.950);transform-origin:50% 50%;">240.8</div>
<div class="t" style="top:417px;font-size:14.1px;left:671.60px;width:200px;text-align:center;transform:scaleX(0.950);transform-origin:50% 50%;">1.8</div>
<div class="t" style="top:417px;font-size:14.1px;left:717.60px;width:200px;text-align:center;transform:scaleX(0.950);transform-origin:50% 50%;">2.3</div>
<div class="t" style="top:417px;font-size:14.1px;left:764.80px;width:200px;text-align:center;transform:scaleX(0.950);transform-origin:50% 50%;">7.1</div>
<div class="t" style="top:417px;font-size:14.1px;left:811.10px;width:200px;text-align:center;transform:scaleX(0.950);transform-origin:50% 50%;">94</div>
<div class="t" style="top:417px;font-size:14.1px;left:856.90px;width:200px;text-align:center;transform:scaleX(0.950);transform-origin:50% 50%;">546</div>
<div class="t b" style="top:437px;font-size:14.5px;left:21.00px;transform:scaleX(0.935);transform-origin:0 50%;">YE3-280<span class="k" style="transform:scaleX(1.17);margin:0 1.05px">M</span>-2</div>
<div class="t" style="top:436px;font-size:14.1px;left:46.60px;width:200px;text-align:center;transform:scaleX(0.950);transform-origin:50% 50%;">90</div>
<div class="t" style="top:436px;font-size:14.1px;left:88.60px;width:200px;text-align:center;transform:scaleX(0.950);transform-origin:50% 50%;">125</div>
<div class="t" style="top:436px;font-size:14.1px;left:198.20px;width:200px;text-align:center;transform:scaleX(0.950);transform-origin:50% 50%;">95</div>
<div class="t" style="top:436px;font-size:14.1px;left:262.20px;width:200px;text-align:center;transform:scaleX(0.950);transform-origin:50% 50%;">95</div>
<div class="t" style="top:436px;font-size:14.1px;left:327.60px;width:200px;text-align:center;transform:scaleX(0.950);transform-origin:50% 50%;">93.1</div>
<div class="t" style="top:436px;font-size:14.1px;left:391.60px;width:200px;text-align:center;transform:scaleX(0.950);transform-origin:50% 50%;">0.9</div>
<div class="t" style="top:436px;font-size:14.1px;left:625.20px;width:200px;text-align:center;transform:scaleX(0.950);transform-origin:50% 50%;">288.9</div>
<div class="t" style="top:436px;font-size:14.1px;left:671.60px;width:200px;text-align:center;transform:scaleX(0.950);transform-origin:50% 50%;">1.8</div>
<div class="t" style="top:436px;font-size:14.1px;left:717.60px;width:200px;text-align:center;transform:scaleX(0.950);transform-origin:50% 50%;">2.3</div>
<div class="t" style="top:436px;font-size:14.1px;left:764.80px;width:200px;text-align:center;transform:scaleX(0.950);transform-origin:50% 50%;">7.1</div>
<div class="t" style="top:436px;font-size:14.1px;left:811.10px;width:200px;text-align:center;transform:scaleX(0.950);transform-origin:50% 50%;">94</div>
<div class="t" style="top:436px;font-size:14.1px;left:856.90px;width:200px;text-align:center;transform:scaleX(0.950);transform-origin:50% 50%;">569</div>
<div class="t b" style="top:456px;font-size:14.5px;left:21.00px;transform:scaleX(0.935);transform-origin:0 50%;">YE3-315<span class="k" style="transform:scaleX(0.8);margin:0 -1.05px">S</span>-2</div>
<div class="t" style="top:455px;font-size:14.1px;left:46.60px;width:200px;text-align:center;transform:scaleX(0.950);transform-origin:50% 50%;">110</div>
<div class="t" style="top:455px;font-size:14.1px;left:88.60px;width:200px;text-align:center;transform:scaleX(0.950);transform-origin:50% 50%;">150</div>
<div class="t" style="top:455px;font-size:14.1px;left:198.20px;width:200px;text-align:center;transform:scaleX(0.950);transform-origin:50% 50%;">95.2</div>
<div class="t" style="top:455px;font-size:14.1px;left:262.20px;width:200px;text-align:center;transform:scaleX(0.950);transform-origin:50% 50%;">95.2</div>
<div class="t" style="top:455px;font-size:14.1px;left:327.60px;width:200px;text-align:center;transform:scaleX(0.950);transform-origin:50% 50%;">93.3</div>
<div class="t" style="top:455px;font-size:14.1px;left:391.60px;width:200px;text-align:center;transform:scaleX(0.950);transform-origin:50% 50%;">0.9</div>
<div class="t" style="top:455px;font-size:14.1px;left:625.20px;width:200px;text-align:center;transform:scaleX(0.950);transform-origin:50% 50%;">352.8</div>
<div class="t" style="top:455px;font-size:14.1px;left:671.60px;width:200px;text-align:center;transform:scaleX(0.950);transform-origin:50% 50%;">1.8</div>
<div class="t" style="top:455px;font-size:14.1px;left:717.60px;width:200px;text-align:center;transform:scaleX(0.950);transform-origin:50% 50%;">2.3</div>
<div class="t" style="top:455px;font-size:14.1px;left:764.80px;width:200px;text-align:center;transform:scaleX(0.950);transform-origin:50% 50%;">7.1</div>
<div class="t" style="top:455px;font-size:14.1px;left:811.10px;width:200px;text-align:center;transform:scaleX(0.950);transform-origin:50% 50%;">94</div>
<div class="t" style="top:455px;font-size:14.1px;left:856.90px;width:200px;text-align:center;transform:scaleX(0.950);transform-origin:50% 50%;">897</div>
<div class="t b" style="top:475px;font-size:14.5px;left:21.00px;transform:scaleX(0.935);transform-origin:0 50%;">YE3-315<span class="k" style="transform:scaleX(1.17);margin:0 1.05px">M</span>-2</div>
<div class="t" style="top:474px;font-size:14.1px;left:46.60px;width:200px;text-align:center;transform:scaleX(0.950);transform-origin:50% 50%;">132</div>
<div class="t" style="top:474px;font-size:14.1px;left:88.60px;width:200px;text-align:center;transform:scaleX(0.950);transform-origin:50% 50%;">180</div>
<div class="t" style="top:474px;font-size:14.1px;left:198.20px;width:200px;text-align:center;transform:scaleX(0.950);transform-origin:50% 50%;">95.4</div>
<div class="t" style="top:474px;font-size:14.1px;left:262.20px;width:200px;text-align:center;transform:scaleX(0.950);transform-origin:50% 50%;">95.4</div>
<div class="t" style="top:474px;font-size:14.1px;left:327.60px;width:200px;text-align:center;transform:scaleX(0.950);transform-origin:50% 50%;">93.5</div>
<div class="t" style="top:474px;font-size:14.1px;left:391.60px;width:200px;text-align:center;transform:scaleX(0.950);transform-origin:50% 50%;">0.9</div>
<div class="t" style="top:474px;font-size:14.1px;left:625.20px;width:200px;text-align:center;transform:scaleX(0.950);transform-origin:50% 50%;">423.3</div>
<div class="t" style="top:474px;font-size:14.1px;left:671.60px;width:200px;text-align:center;transform:scaleX(0.950);transform-origin:50% 50%;">1.8</div>
<div class="t" style="top:474px;font-size:14.1px;left:717.60px;width:200px;text-align:center;transform:scaleX(0.950);transform-origin:50% 50%;">2.3</div>
<div class="t" style="top:474px;font-size:14.1px;left:764.80px;width:200px;text-align:center;transform:scaleX(0.950);transform-origin:50% 50%;">7.1</div>
<div class="t" style="top:474px;font-size:14.1px;left:811.10px;width:200px;text-align:center;transform:scaleX(0.950);transform-origin:50% 50%;">95</div>
<div class="t" style="top:474px;font-size:14.1px;left:856.90px;width:200px;text-align:center;transform:scaleX(0.950);transform-origin:50% 50%;">1029</div>
<div class="t b" style="top:495px;font-size:14.5px;left:21.00px;transform:scaleX(0.935);transform-origin:0 50%;">YE3-315<span class="k" style="transform:scaleX(0.78);transform-origin:15% 50%;margin:0 -1.9px 0 -0.3px">L</span>1-2</div>
<div class="t" style="top:494px;font-size:14.1px;left:46.60px;width:200px;text-align:center;transform:scaleX(0.950);transform-origin:50% 50%;">160</div>
<div class="t" style="top:494px;font-size:14.1px;left:88.60px;width:200px;text-align:center;transform:scaleX(0.950);transform-origin:50% 50%;">220</div>
<div class="t" style="top:494px;font-size:14.1px;left:198.20px;width:200px;text-align:center;transform:scaleX(0.950);transform-origin:50% 50%;">95.6</div>
<div class="t" style="top:494px;font-size:14.1px;left:262.20px;width:200px;text-align:center;transform:scaleX(0.950);transform-origin:50% 50%;">95.6</div>
<div class="t" style="top:494px;font-size:14.1px;left:327.60px;width:200px;text-align:center;transform:scaleX(0.950);transform-origin:50% 50%;">93.7</div>
<div class="t" style="top:494px;font-size:14.1px;left:391.60px;width:200px;text-align:center;transform:scaleX(0.950);transform-origin:50% 50%;">0.91</div>
<div class="t" style="top:494px;font-size:14.1px;left:625.20px;width:200px;text-align:center;transform:scaleX(0.950);transform-origin:50% 50%;">512.8</div>
<div class="t" style="top:494px;font-size:14.1px;left:671.60px;width:200px;text-align:center;transform:scaleX(0.950);transform-origin:50% 50%;">1.8</div>
<div class="t" style="top:494px;font-size:14.1px;left:717.60px;width:200px;text-align:center;transform:scaleX(0.950);transform-origin:50% 50%;">2.3</div>
<div class="t" style="top:494px;font-size:14.1px;left:764.80px;width:200px;text-align:center;transform:scaleX(0.950);transform-origin:50% 50%;">7.2</div>
<div class="t" style="top:494px;font-size:14.1px;left:811.10px;width:200px;text-align:center;transform:scaleX(0.950);transform-origin:50% 50%;">95</div>
<div class="t" style="top:494px;font-size:14.1px;left:856.90px;width:200px;text-align:center;transform:scaleX(0.950);transform-origin:50% 50%;">1067</div>
<div class="t b" style="top:514px;font-size:14.5px;left:21.00px;transform:scaleX(0.935);transform-origin:0 50%;">YE3-315<span class="k" style="transform:scaleX(0.78);transform-origin:15% 50%;margin:0 -1.9px 0 -0.3px">L</span>2-2</div>
<div class="t" style="top:513px;font-size:14.1px;left:46.60px;width:200px;text-align:center;transform:scaleX(0.950);transform-origin:50% 50%;">200</div>
<div class="t" style="top:513px;font-size:14.1px;left:88.60px;width:200px;text-align:center;transform:scaleX(0.950);transform-origin:50% 50%;">270</div>
<div class="t" style="top:513px;font-size:14.1px;left:198.20px;width:200px;text-align:center;transform:scaleX(0.950);transform-origin:50% 50%;">95.8</div>
<div class="t" style="top:513px;font-size:14.1px;left:262.20px;width:200px;text-align:center;transform:scaleX(0.950);transform-origin:50% 50%;">95.8</div>
<div class="t" style="top:513px;font-size:14.1px;left:327.60px;width:200px;text-align:center;transform:scaleX(0.950);transform-origin:50% 50%;">93.9</div>
<div class="t" style="top:513px;font-size:14.1px;left:391.60px;width:200px;text-align:center;transform:scaleX(0.950);transform-origin:50% 50%;">0.91</div>
<div class="t" style="top:513px;font-size:14.1px;left:625.20px;width:200px;text-align:center;transform:scaleX(0.950);transform-origin:50% 50%;">640.9</div>
<div class="t" style="top:513px;font-size:14.1px;left:671.60px;width:200px;text-align:center;transform:scaleX(0.950);transform-origin:50% 50%;">1.8</div>
<div class="t" style="top:513px;font-size:14.1px;left:717.60px;width:200px;text-align:center;transform:scaleX(0.950);transform-origin:50% 50%;">2.2</div>
<div class="t" style="top:513px;font-size:14.1px;left:764.80px;width:200px;text-align:center;transform:scaleX(0.950);transform-origin:50% 50%;">7.2</div>
<div class="t" style="top:513px;font-size:14.1px;left:811.10px;width:200px;text-align:center;transform:scaleX(0.950);transform-origin:50% 50%;">95</div>
<div class="t" style="top:513px;font-size:14.1px;left:856.90px;width:200px;text-align:center;transform:scaleX(0.950);transform-origin:50% 50%;">1194</div>
<div class="t b" style="top:533px;font-size:14.5px;left:21.00px;transform:scaleX(0.935);transform-origin:0 50%;">YE3-355<span class="k" style="transform:scaleX(1.17);margin:0 1.05px">M</span>-2</div>
<div class="t" style="top:532px;font-size:14.1px;left:46.60px;width:200px;text-align:center;transform:scaleX(0.950);transform-origin:50% 50%;">250</div>
<div class="t" style="top:532px;font-size:14.1px;left:88.60px;width:200px;text-align:center;transform:scaleX(0.950);transform-origin:50% 50%;">340</div>
<div class="t" style="top:532px;font-size:14.1px;left:198.20px;width:200px;text-align:center;transform:scaleX(0.950);transform-origin:50% 50%;">95.8</div>
<div class="t" style="top:532px;font-size:14.1px;left:262.20px;width:200px;text-align:center;transform:scaleX(0.950);transform-origin:50% 50%;">95.8</div>
<div class="t" style="top:532px;font-size:14.1px;left:327.60px;width:200px;text-align:center;transform:scaleX(0.950);transform-origin:50% 50%;">93.9</div>
<div class="t" style="top:532px;font-size:14.1px;left:391.60px;width:200px;text-align:center;transform:scaleX(0.950);transform-origin:50% 50%;">0.91</div>
<div class="t" style="top:532px;font-size:14.1px;left:625.20px;width:200px;text-align:center;transform:scaleX(0.950);transform-origin:50% 50%;">800.6</div>
<div class="t" style="top:532px;font-size:14.1px;left:671.60px;width:200px;text-align:center;transform:scaleX(0.950);transform-origin:50% 50%;">1.6</div>
<div class="t" style="top:532px;font-size:14.1px;left:717.60px;width:200px;text-align:center;transform:scaleX(0.950);transform-origin:50% 50%;">2.2</div>
<div class="t" style="top:532px;font-size:14.1px;left:764.80px;width:200px;text-align:center;transform:scaleX(0.950);transform-origin:50% 50%;">7.2</div>
<div class="t" style="top:532px;font-size:14.1px;left:811.10px;width:200px;text-align:center;transform:scaleX(0.950);transform-origin:50% 50%;">103</div>
<div class="t" style="top:532px;font-size:14.1px;left:856.90px;width:200px;text-align:center;transform:scaleX(0.950);transform-origin:50% 50%;">1685</div>
<div class="t b" style="top:553px;font-size:14.5px;left:21.00px;transform:scaleX(0.935);transform-origin:0 50%;">YE3-355<span class="k" style="transform:scaleX(0.78);transform-origin:15% 50%;margin:0 -1.9px 0 -0.3px">L</span>-2</div>
<div class="t" style="top:552px;font-size:14.1px;left:46.60px;width:200px;text-align:center;transform:scaleX(0.950);transform-origin:50% 50%;">315</div>
<div class="t" style="top:552px;font-size:14.1px;left:88.60px;width:200px;text-align:center;transform:scaleX(0.950);transform-origin:50% 50%;">430</div>
<div class="t" style="top:552px;font-size:14.1px;left:198.20px;width:200px;text-align:center;transform:scaleX(0.950);transform-origin:50% 50%;">95.8</div>
<div class="t" style="top:552px;font-size:14.1px;left:262.20px;width:200px;text-align:center;transform:scaleX(0.950);transform-origin:50% 50%;">95.8</div>
<div class="t" style="top:552px;font-size:14.1px;left:327.60px;width:200px;text-align:center;transform:scaleX(0.950);transform-origin:50% 50%;">93.9</div>
<div class="t" style="top:552px;font-size:14.1px;left:391.60px;width:200px;text-align:center;transform:scaleX(0.950);transform-origin:50% 50%;">0.91</div>
<div class="t" style="top:552px;font-size:14.1px;left:625.20px;width:200px;text-align:center;transform:scaleX(0.950);transform-origin:50% 50%;">1009</div>
<div class="t" style="top:552px;font-size:14.1px;left:671.60px;width:200px;text-align:center;transform:scaleX(0.950);transform-origin:50% 50%;">1.6</div>
<div class="t" style="top:552px;font-size:14.1px;left:717.60px;width:200px;text-align:center;transform:scaleX(0.950);transform-origin:50% 50%;">2.2</div>
<div class="t" style="top:552px;font-size:14.1px;left:764.80px;width:200px;text-align:center;transform:scaleX(0.950);transform-origin:50% 50%;">7.2</div>
<div class="t" style="top:552px;font-size:14.1px;left:811.10px;width:200px;text-align:center;transform:scaleX(0.950);transform-origin:50% 50%;">103</div>
<div class="t" style="top:552px;font-size:14.1px;left:856.90px;width:200px;text-align:center;transform:scaleX(0.950);transform-origin:50% 50%;">1734</div>
</div>
</body></html>
